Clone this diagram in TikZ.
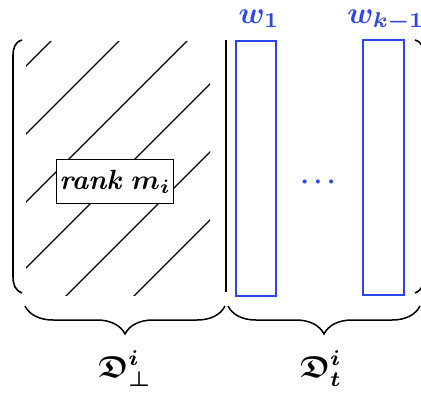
\documentclass[tikz,border=0pt]{standalone}
\usepackage{amssymb}
\usetikzlibrary{decorations.pathreplacing}
\definecolor{wblue}{RGB}{45,70,235}
\mathversion{bold}
\tikzset{
  hatchline/.style={line width=1.1pt},
  colbox/.style={draw=wblue,line width=1.5pt},
  bigbrace/.style={decorate,decoration={brace,mirror,amplitude=28pt},line width=1.5pt},
  lbl/.style={scale=3.05,inner sep=0pt},
}
\begin{document}
\begin{tikzpicture}[x=1pt,y=-1pt]
\useasboundingbox (0,0) rectangle (421,392);
% hatching
\begin{scope}
\clip (26,41) rectangle (210,295);
\foreach \c in {92,160,228,294,362,430}{
  \draw[hatchline] (\c-320,320) -- (\c-20,20);
}
\end{scope}
% rank box
\node[draw,fill=white,line width=1.3pt,scale=2.78,inner xsep=1pt,inner ysep=0pt,minimum height=16pt] (rank) at (115,181.5) {\textbf{\textit{rank}} $m_i$};
% brackets
\draw[line width=1.6pt] (22,40) .. controls (15,42) and (13,48) .. (13,56) -- (13,276) .. controls (13,285) and (15,290) .. (22,293);
\draw[line width=1.6pt] (415,40) .. controls (422,42) and (424,48) .. (424,56) -- (424,276) .. controls (424,285) and (422,290) .. (415,293);
% separator
\coordinate (sepT) at (226,40);
\coordinate (sepB) at (226,292);
\draw[line width=1.5pt] (sepT) -- (sepB);
% blue columns
\node[colbox,minimum width=40pt,minimum height=255pt,inner sep=0pt] (c1) at (256,168.5) {};
\node[colbox,minimum width=41pt,minimum height=255pt,inner sep=0pt] (c2) at (383.5,167.5) {};
\node[text=wblue,scale=2.6,inner sep=0pt] (dots) at (318,182) {$\cdots$};
\node[text=wblue,lbl,anchor=base] (w1) at (259,23) {$w_1$};
\node[text=wblue,lbl,anchor=base] (wk) at (386,23) {$w_{k-1}$};
% braces
\coordinate (b1l) at (25,306);
\coordinate (b1r) at (225,306);
\coordinate (b2l) at (228,306);
\coordinate (b2r) at (420,306);
\draw[bigbrace] (b1l) -- (b1r);
\draw[bigbrace] (b2l) -- (b2r);
\node[lbl,anchor=base] (dperp) at (125,377) {$\mathfrak{D}_\perp^i$};
\node[lbl,anchor=base] (dt) at (321,377) {$\mathfrak{D}_t^i$};
\end{tikzpicture}
\end{document}
